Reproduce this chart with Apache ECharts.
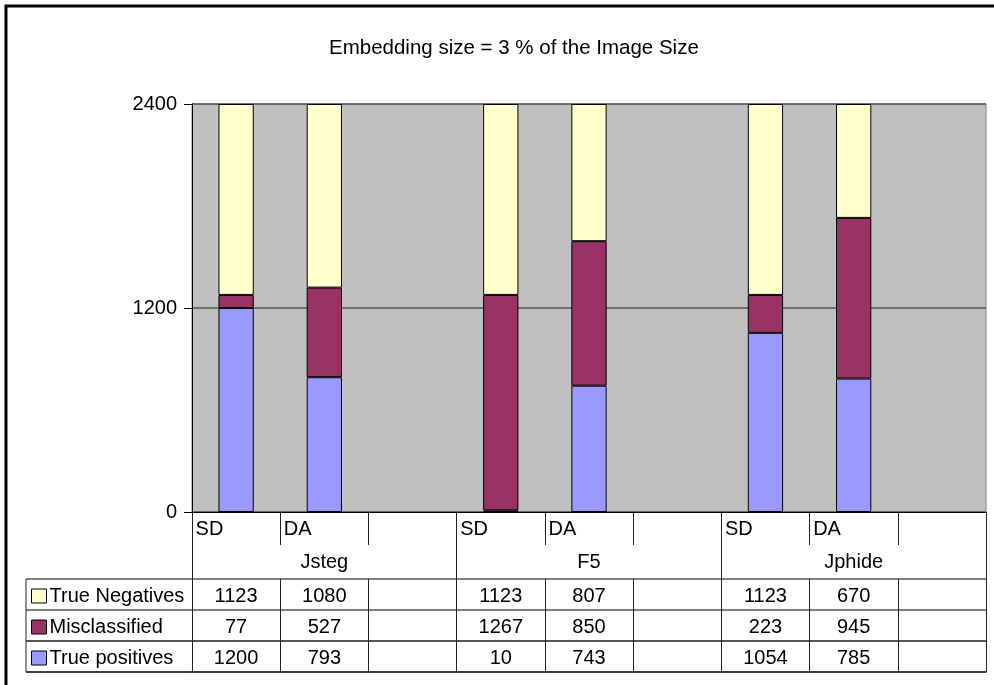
<!DOCTYPE html>
<html>
<head>
<meta charset="utf-8">
<script src="https://cdn.jsdelivr.net/npm/echarts@6/dist/echarts.min.js"></script>
<style>
html,body{margin:0;padding:0;background:#fff;}
#chart{width:994px;height:685px;}
</style>
</head>
<body>
<div id="chart"></div>
<script>
// ---- data ----
var titleText = 'Embedding size = 3 % of the Image Size';
var groups = ['Jsteg', 'F5', 'Jphide'];
var slots = ['Jsteg SD', 'Jsteg DA', 'Jsteg gap', 'F5 SD', 'F5 DA', 'F5 gap', 'Jphide SD', 'Jphide DA', 'Jphide gap'];
var slotLabels = ['SD', 'DA', '', 'SD', 'DA', '', 'SD', 'DA', ''];
var trueNegatives = [1123, 1080, null, 1123, 807, null, 1123, 670, null];
var misclassified = [77, 527, null, 1267, 850, null, 223, 945, null];
var truePositives = [1200, 793, null, 10, 743, null, 1054, 785, null];
var seriesNames = ['True Negatives', 'Misclassified', 'True positives'];
var yTicks = [0, 1200, 2400];

// ---- layout ----
var W = 994, H = 685;
var GL = 192, GR = 986, GT = 104, GB = 512;
var CAT_ROW = 33, GROUP_BOTTOM = 579, ROW_H = 31;
var TABLE_LEFT = 26;
var FS = 20;
var FONT = 'Liberation Sans, Arial, sans-serif';
var colors = { tn: '#FFFFCC', mis: '#993366', tp: '#9999FF' };

var rowData = [trueNegatives, misclassified, truePositives];
var rowLineColors = ['#808080', '#555555', '#000000'];

var chart = echarts.init(document.getElementById('chart'), null, { renderer: 'canvas' });

var xAxes = [];
// category row
xAxes.push({
  type: 'category', gridIndex: 0, position: 'bottom', offset: 0,
  data: slots,
  axisLine: { show: true, lineStyle: { color: '#000', width: 1 } },
  axisTick: { show: true, interval: 0, length: CAT_ROW, inside: false, lineStyle: { color: '#222' } },
  axisLabel: {
    interval: 0, margin: 7,
    formatter: function (v, i) { return '{l|' + (slotLabels[i] || ' ') + '}'; },
    rich: { l: { width: 81, align: 'left', fontSize: FS, fontFamily: FONT, color: '#000' } }
  },
  splitLine: { show: false }
});
// group row
xAxes.push({
  type: 'category', gridIndex: 0, position: 'bottom', offset: GROUP_BOTTOM - GB,
  data: groups,
  axisLine: { show: true, lineStyle: { color: '#808080', width: 2 } },
  axisTick: { show: true, interval: 0, length: GROUP_BOTTOM - GB, inside: true, lineStyle: { color: '#222' } },
  axisLabel: { interval: 0, inside: true, margin: 7, fontSize: FS, fontFamily: FONT, color: '#000' },
  splitLine: { show: false }
});
// data rows
rowData.forEach(function (arr, r) {
  xAxes.push({
    type: 'category', gridIndex: 0, position: 'bottom', offset: GROUP_BOTTOM - GB + ROW_H * (r + 1),
    data: slots,
    axisLine: { show: true, lineStyle: { color: rowLineColors[r], width: r < 2 ? 2 : 1.5 } },
    axisTick: { show: true, interval: 0, length: ROW_H, inside: true, lineStyle: { color: '#222' } },
    axisLabel: {
      interval: 0, inside: true, margin: 4, fontSize: FS, fontFamily: FONT, color: '#000',
      formatter: (function (a) { return function (v, i) { return a[i] == null ? '' : String(a[i]); }; })(arr)
    },
    splitLine: { show: false }
  });
});

function legendFor(name, r) {
  return {
    show: true, orient: 'vertical', left: TABLE_LEFT + 5,
    top: GROUP_BOTTOM + ROW_H * r + 7,
    data: [name], icon: 'rect', itemWidth: 15, itemHeight: 14, itemGap: 0, padding: 0,
    selectedMode: false,
    itemStyle: { borderColor: '#000', borderWidth: 1 },
    textStyle: { fontSize: FS, fontFamily: FONT, color: '#000', padding: [0, 0, 0, -2] }
  };
}

var tableLines = [];
for (var r = 0; r <= 3; r++) {
  var y = GROUP_BOTTOM + ROW_H * r;
  tableLines.push({
    type: 'line', silent: true,
    shape: { x1: TABLE_LEFT, y1: y, x2: GL, y2: y },
    style: { stroke: r === 3 ? '#000' : (r === 2 ? '#555' : '#808080'), lineWidth: r === 3 ? 1.5 : 2 }
  });
}
tableLines.push({
  type: 'line', silent: true,
  shape: { x1: TABLE_LEFT, y1: GROUP_BOTTOM, x2: TABLE_LEFT, y2: GROUP_BOTTOM + ROW_H * 3 },
  style: { stroke: '#222', lineWidth: 1 }
});
tableLines.push({
  type: 'rect', silent: true,
  shape: { x: 6, y: 6, width: W + 20, height: H + 20 },
  style: { fill: 'none', stroke: '#000', lineWidth: 3 }
});

var barBase = { type: 'bar', stack: 'all', xAxisIndex: 0, yAxisIndex: 0, barWidth: '40%' };

var option = {
  backgroundColor: '#fff',
  animation: false,
  title: {
    text: titleText, left: 324, top: 33,
    textStyle: { fontSize: 20.5, fontWeight: 'normal', fontFamily: FONT, color: '#000' }
  },
  legend: [legendFor(seriesNames[0], 0), legendFor(seriesNames[1], 1), legendFor(seriesNames[2], 2)],
  grid: {
    left: GL, right: W - GR, top: GT, bottom: H - GB,
    show: true, backgroundColor: '#C0C0C0', borderColor: '#808080', borderWidth: 1,
    containLabel: false
  },
  xAxis: xAxes,
  yAxis: {
    type: 'value', min: yTicks[0], max: yTicks[yTicks.length - 1], interval: yTicks[1] - yTicks[0],
    axisLine: { show: true, lineStyle: { color: '#000', width: 1 } },
    axisTick: { show: true, length: 8, lineStyle: { color: '#000' } },
    axisLabel: { margin: 15, fontSize: FS, fontFamily: FONT, color: '#000', formatter: function (v) { return String(v); } },
    splitLine: { show: true, lineStyle: { color: '#555', width: 1.5 } }
  },
  series: [
    Object.assign({}, barBase, { name: seriesNames[2], data: truePositives, itemStyle: { color: colors.tp, borderColor: '#000', borderWidth: 1 } }),
    Object.assign({}, barBase, { name: seriesNames[1], data: misclassified, itemStyle: { color: colors.mis, borderColor: '#000', borderWidth: 1 } }),
    Object.assign({}, barBase, { name: seriesNames[0], data: trueNegatives, itemStyle: { color: colors.tn, borderColor: '#000', borderWidth: 1 } })
  ],
  graphic: tableLines
};
chart.setOption(option);
</script>
</body>
</html>
